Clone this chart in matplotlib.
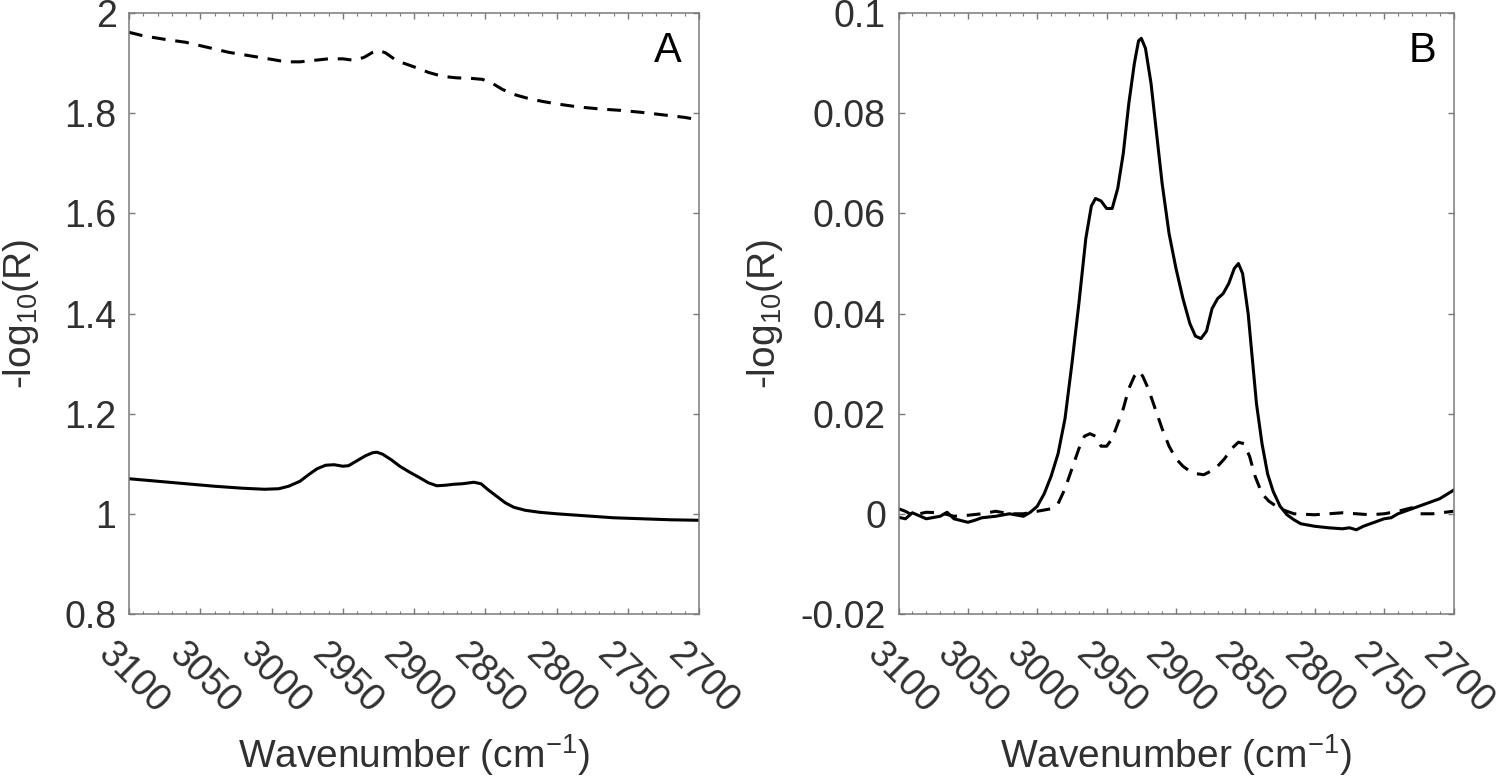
import numpy as np
import matplotlib
matplotlib.use('Agg')
import matplotlib.pyplot as plt
from matplotlib.ticker import MultipleLocator, FormatStrFormatter
from matplotlib.transforms import ScaledTranslation

plt.rcParams['font.family'] = ['Liberation Sans', 'DejaVu Sans']
plt.rcParams['mathtext.fontset'] = 'custom'
plt.rcParams['mathtext.rm'] = 'Liberation Sans'
plt.rcParams['mathtext.it'] = 'Liberation Sans:italic'

# panel A, solid trace
wn_a_solid = [3100, 3080, 3060, 3040, 3020, 3005, 2995, 2988, 2980, 2974, 2968, 2962, 2956,
              2950, 2946, 2940, 2934, 2929, 2926, 2922, 2916, 2910, 2903, 2896, 2890, 2884,
              2878, 2872, 2866, 2858, 2853, 2848, 2842, 2836, 2830, 2822, 2812, 2800, 2780,
              2760, 2740, 2720, 2700]
a_solid = [1.070, 1.065, 1.060, 1.055, 1.051, 1.049, 1.050, 1.055, 1.065, 1.078, 1.090, 1.097,
           1.098, 1.095, 1.096, 1.106, 1.116, 1.122, 1.123, 1.119, 1.108, 1.095, 1.083, 1.072,
           1.062, 1.056, 1.057, 1.059, 1.060, 1.063, 1.060, 1.048, 1.035, 1.022, 1.013, 1.007,
           1.003, 1.000, 0.996, 0.992, 0.990, 0.988, 0.987]

# panel A, dashed trace
wn_a_dash = [3100, 3090, 3075, 3060, 3045, 3030, 3015, 3000, 2990, 2980, 2970, 2960, 2950,
             2942, 2935, 2929, 2925, 2920, 2912, 2900, 2890, 2880, 2870, 2860, 2852, 2845,
             2838, 2830, 2820, 2810, 2800, 2785, 2770, 2755, 2740, 2725, 2710, 2700]
a_dash = [1.962, 1.955, 1.948, 1.942, 1.932, 1.922, 1.915, 1.908, 1.903, 1.903, 1.906, 1.909,
          1.909, 1.906, 1.912, 1.922, 1.926, 1.921, 1.905, 1.893, 1.882, 1.874, 1.871, 1.870,
          1.868, 1.860, 1.848, 1.838, 1.830, 1.824, 1.819, 1.813, 1.809, 1.806, 1.802, 1.797,
          1.792, 1.787]

# panel B, solid trace
wn_b_solid = [3100, 3095, 3090, 3080, 3070, 3065, 3060, 3050, 3045, 3040, 3030, 3020, 3010,
              3005, 3000, 2995, 2990, 2985, 2980, 2975, 2970, 2965, 2961, 2958, 2954, 2950,
              2946, 2942, 2938, 2934, 2930, 2927, 2925, 2922, 2918, 2914, 2910, 2905, 2900,
              2895, 2890, 2886, 2882, 2878, 2874, 2870, 2866, 2862, 2858, 2855, 2852, 2848,
              2845, 2842, 2838, 2834, 2830, 2825, 2820, 2815, 2810, 2800, 2790, 2780, 2775,
              2770, 2765, 2760, 2750, 2745, 2740, 2730, 2720, 2710, 2700]
b_solid = [-0.0007, -0.001, 0.0002, -0.001, -0.0005, 0.0003, -0.001, -0.0017, -0.0013, -0.0008,
           -0.0005, 0.0, -0.0005, 0.0003, 0.0015, 0.004, 0.0075, 0.012, 0.019, 0.030, 0.042,
           0.055, 0.0615, 0.063, 0.0625, 0.061, 0.061, 0.065, 0.072, 0.082, 0.090, 0.0945,
           0.095, 0.093, 0.086, 0.076, 0.066, 0.056, 0.049, 0.043, 0.038, 0.0355, 0.035,
           0.0365, 0.041, 0.043, 0.044, 0.046, 0.049, 0.050, 0.048, 0.040, 0.031, 0.022,
           0.014, 0.008, 0.0045, 0.0015, -0.0002, -0.0012, -0.002, -0.0025, -0.0028, -0.003,
           -0.0028, -0.0032, -0.0025, -0.002, -0.001, -0.0008, 0.0, 0.001, 0.002, 0.003, 0.0047]

# panel B, dashed trace
wn_b_dash = [3100, 3095, 3090, 3085, 3080, 3070, 3060, 3050, 3040, 3030, 3020, 3010, 3000,
             2990, 2985, 2980, 2975, 2970, 2966, 2962, 2958, 2954, 2950, 2946, 2942, 2938,
             2934, 2930, 2927, 2924, 2920, 2915, 2910, 2905, 2900, 2895, 2890, 2885, 2880,
             2875, 2870, 2865, 2860, 2855, 2851, 2847, 2843, 2838, 2833, 2825, 2815, 2800,
             2790, 2780, 2770, 2760, 2750, 2740, 2730, 2725, 2715, 2700]
b_dash = [0.001, 0.0005, -0.0003, 0.0, 0.0003, 0.0002, -0.0005, -0.0003, 0.0, 0.0005, 0.0, 0.0,
          0.0005, 0.001, 0.002, 0.005, 0.009, 0.013, 0.0155, 0.016, 0.0155, 0.0135, 0.0135,
          0.015, 0.018, 0.021, 0.025, 0.0275, 0.0285, 0.0275, 0.025, 0.021, 0.017, 0.0135,
          0.011, 0.0095, 0.0085, 0.008, 0.0078, 0.0085, 0.0095, 0.011, 0.013, 0.0143, 0.014,
          0.0115, 0.0075, 0.004, 0.0025, 0.001, 0.0, -0.0002, 0.0, 0.0002, 0.0, -0.0002, 0.0,
          0.0005, 0.0012, 0.0, 0.0, 0.0005]

x_ticks = [3100, 3050, 3000, 2950, 2900, 2850, 2800, 2750, 2700]

fig = plt.figure(figsize=(15, 7.82), dpi=100)
ax_a = fig.add_axes([0.086, 0.215, 0.380, 0.768])
ax_b = fig.add_axes([0.599, 0.215, 0.370, 0.768])

dash = (0, (4.5, 3.2))
ax_a.plot(wn_a_solid, a_solid, color='black', lw=2.2)
ax_a.plot(wn_a_dash, a_dash, color='black', lw=2.2, linestyle=dash)
ax_b.plot(wn_b_solid, b_solid, color='black', lw=2.2)
ax_b.plot(wn_b_dash, b_dash, color='black', lw=2.2, linestyle=dash)

ax_a.set_ylim(0.8, 2)
ax_a.yaxis.set_major_locator(MultipleLocator(0.2))
ax_b.set_ylim(-0.02, 0.1)
ax_b.yaxis.set_major_locator(MultipleLocator(0.02))

shift = ScaledTranslation(-13 / 100, 0, fig.dpi_scale_trans)
for ax, letter, lx in [(ax_a, 'A', -0.155), (ax_b, 'B', -0.205)]:
    ax.set_xlim(3100, 2700)
    ax.set_xticks(x_ticks)
    ax.xaxis.set_minor_locator(MultipleLocator(10))
    ax.yaxis.set_major_formatter(FormatStrFormatter('%g'))
    ax.xaxis.set_major_formatter(FormatStrFormatter('%g'))
    for s in ax.spines.values():
        s.set_color('#7a7a7a')
        s.set_linewidth(1.1)
    ax.tick_params(which='both', direction='in', top=True, right=True,
                   color='#7a7a7a', labelcolor='#303030', labelsize=27)
    ax.tick_params(which='major', length=4.5, width=1.0)
    ax.tick_params(which='minor', length=2.5, width=0.8)
    ax.tick_params(axis='y', pad=9)
    ax.tick_params(axis='x', pad=16)
    for lab in ax.get_xticklabels():
        lab.set_rotation(-45)
        lab.set_ha('left')
        lab.set_va('top')
        lab.set_rotation_mode('anchor')
        lab.set_transform(lab.get_transform() + shift)
    ax.set_xlabel('Wavenumber (cm$^{\\mathregular{-1}}$)', fontsize=28, color='#303030')
    ax.xaxis.set_label_coords(0.5, -0.197)
    ax.set_ylabel('-log$_{\\mathregular{10}}$(R)', fontsize=28, color='#303030')
    ax.yaxis.set_label_coords(lx, 0.5)
    ax.text(0.945, 0.938, letter, transform=ax.transAxes, fontsize=30,
            ha='center', va='center', color='black')

fig.savefig('out.png', dpi=100)
